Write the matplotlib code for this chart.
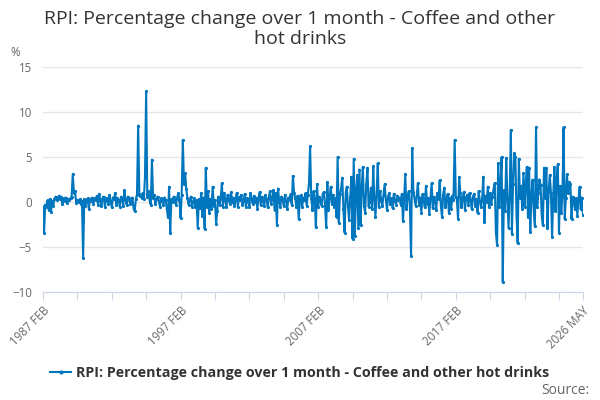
import matplotlib
matplotlib.use("Agg")
import matplotlib.pyplot as plt
from matplotlib.lines import Line2D
import numpy as np
import pandas as pd

# RPI monthly % change, coffee and other hot drinks, 1987 FEB .. 2026 MAY
y1987 = [-0.5, -3.4, -0.3, -0.6, 0.2, -0.9, 0.3, -1.1, 0.1, -0.4, 0.3]
y1988 = [0.6, 0.2, 0.5, 0.7, 0.3, 0.6, -0.2, 0.4, 0.1, 0.5, -0.1, 0.3]
y1989 = [0.2, 0.4, 0.6, 3.1, 1.0, 1.2, -0.1, 0.2, 0.0, 0.3, -0.2, 0.1]
y1990 = [-6.2, 0.3, -0.4, 0.2, 0.4, -0.8, 0.3, 0.1, 0.5, -0.2, 0.4, 0.2]
y1991 = [0.7, -0.3, 0.9, 0.2, -0.4, 0.5, 0.6, -0.5, 0.3, 0.4, -0.2, 0.8]
y1992 = [0.1, -0.6, 0.5, 0.3, 1.0, -0.3, 0.4, 0.2, -0.5, 0.6, 0.3, -0.4]
y1993 = [1.3, 0.2, -0.3, 0.6, 0.4, -0.2, 0.1, 0.5, -0.7, -1.0, 0.3, 0.8]
y1994 = [8.5, 0.9, 0.7, 0.5, 1.0, 0.3, 2.8, 12.3, 0.6, 1.2, 0.2, -0.3]
y1995 = [4.7, 0.5, 0.8, -0.2, 0.3, 0.6, 0.1, -0.5, 0.4, 0.2, -0.3, 0.5]
y1996 = [0.2, -0.8, -1.7, 1.7, -3.4, 0.3, 0.0, 0.6, 0.2, -0.3, 0.5, 1.0]
y1997 = [0.2, -1.8, 0.8, 6.9, 2.0, 3.2, 1.5, 0.4, -0.3, 0.2, 0.6, -0.5]
y1998 = [0.0, 0.4, -0.6, 0.2, -2.9, 0.3, -0.7, 1.0, -1.5, 0.5, -3.0, 3.8]
y1999 = [-0.5, 1.2, -1.2, 0.3, -0.8, 1.7, -0.4, 0.2, -2.4, -1.0, 0.6, -0.3]
y2000 = [0.4, 2.1, -0.5, 1.0, 0.3, -0.6, 0.8, 0.2, -0.2, 1.1, 0.0, 0.5]
y2001 = [-0.4, 0.3, 1.0, -0.5, 0.6, 0.2, 0.8, -0.3, 0.1, 0.9, -0.6, 0.4]
y2002 = [0.2, -0.5, 1.0, 0.3, -0.2, 0.7, 0.0, 0.5, -0.8, 0.4, 1.1, -0.3]
y2003 = [0.6, 0.1, -0.4, 0.8, 0.3, -0.6, 0.5, 1.2, -0.2, 0.3, 1.3, -0.9]
y2004 = [1.0, -2.6, 1.5, 0.2, -0.5, 0.6, 0.3, -0.4, 0.8, 0.1, -0.8, 0.5]
y2005 = [0.2, 0.9, -0.3, 2.9, 1.0, 0.4, -0.5, 0.7, -1.9, 0.3, 0.8, -0.6]
y2006 = [0.5, 0.2, 1.0, -0.4, 0.8, 2.0, 6.2, 0.4, -0.9, 1.2, 0.3, -2.8]
y2007 = [2.0, -0.5, 0.6, 0.2, -0.4, 0.9, 1.1, -0.3, -2.8, 2.2, -0.9, 0.5]
y2008 = [1.7, -0.2, 0.8, -0.6, 0.4, -1.7, 5.0, -2.3, 0.9, 1.5, 2.7, -0.8]
y2009 = [-3.4, 1.0, 1.7, -0.5, -2.0, 0.6, 2.8, -4.1, 4.8, -3.8, 1.2, 3.0]
y2010 = [-2.9, 3.6, -2.6, 1.5, 3.9, -0.4, -1.2, 2.0, 3.8, -0.5, 0.0, 1.6]
y2011 = [-0.8, 4.0, 0.5, -1.7, 1.0, 4.3, -0.6, 1.2, 0.2, -0.4, 0.8, 2.0]
y2012 = [0.3, -0.9, 0.6, 1.0, -0.2, 0.4, -0.7, 0.9, 0.1, -0.3, 0.7, 0.2]
y2013 = [0.5, -0.3, 0.9, -2.1, 0.4, 3.1, -0.8, 0.6, 1.2, -0.5, -6.0, 6.0]
y2014 = [1.1, 0.3, -0.4, 0.8, 2.1, -0.3, 0.5, -1.2, 0.9, 0.2, -0.6, 1.8]
y2015 = [-0.2, 0.4, -1.3, 0.5, 2.1, -0.7, 0.6, 0.1, -0.9, 1.0, 0.3, 2.4]
y2016 = [-0.4, -1.7, 0.8, 1.6, -0.5, 0.3, 0.9, -1.2, 0.5, -0.8, 0.7, 0.2]
y2017 = [6.9, 0.6, 0.3, -1.9, 2.8, 1.0, -0.6, 0.4, 1.1, -0.9, 0.5, 0.8]
y2018 = [-0.3, 1.0, 0.2, -0.8, 0.6, 0.9, -0.4, 0.3, -1.2, 1.2, 0.1, -0.6]
y2019 = [0.4, 2.8, -2.2, 0.7, 0.0, 1.7, -0.5, 1.0, -0.2, 0.6, 1.5, 2.1]
y2020 = [-3.4, -4.8, 4.3, -0.5, 2.0, 5.0, -8.9, 1.3, -1.0, 4.9, 0.5, -2.9]
y2021 = [1.0, 8.0, -3.5, 2.0, 5.4, 5.0, -1.5, -4.6, 4.8, 0.5, 1.8, -0.8]
y2022 = [3.2, -0.5, 2.0, 3.9, -1.7, 3.8, -3.3, 0.8, 2.5, -1.0, -2.7, 8.3]
y2023 = [-0.5, 1.0, 2.5, 1.9, -1.5, -2.6, 3.8, 0.5, 3.8, -2.9, 1.2, 3.0]
y2024 = [1.0, -3.9, 0.5, 3.9, -1.0, 2.5, 4.2, -3.4, 1.8, -1.2, 0.8, 8.3]
y2025 = [-1.9, 0.5, 3.1, 1.0, 2.2, 2.0, -1.9, 0.6, 0.3, -0.8, 0.4, -1.5]
y2026 = [0.2, 1.7, -0.8, 0.5, -1.4]

years = [y1987, y1988, y1989, y1990, y1991, y1992, y1993, y1994, y1995, y1996,
         y1997, y1998, y1999, y2000, y2001, y2002, y2003, y2004, y2005, y2006,
         y2007, y2008, y2009, y2010, y2011, y2012, y2013, y2014, y2015, y2016,
         y2017, y2018, y2019, y2020, y2021, y2022, y2023, y2024, y2025, y2026]
rpi = np.array([v for yr in years for v in yr])
dates = pd.date_range("1987-02-01", periods=len(rpi), freq="MS")

title = "RPI: Percentage change over 1 month - Coffee and other\nhot drinks"
seriesName = "RPI: Percentage change over 1 month - Coffee and other hot drinks"
yTicks = [-10, -5, 0, 5, 10, 15]

lineColor = "#0076bf"
axisColor = "#ccd6eb"
textGray = "#666666"

plt.rcParams["font.family"] = ["Open Sans", "DejaVu Sans"]

fig = plt.figure(figsize=(6, 4), dpi=100)
ax = fig.add_axes([43 / 600, 1 - 292 / 400, 540 / 600, 225 / 400])

ax.plot(dates, rpi, color=lineColor, lw=1.5, marker="o", ms=2.3,
        markeredgewidth=0, zorder=3)

ax.set_ylim(-10, 15)
ax.set_yticks(yTicks)
ax.set_xlim(dates[0], dates[-1])

# ticks every 30 months, labels on every 4th plus the last month
tickDates = list(dates[::30]) + [dates[-1]]
tickLabels = []
for i, d in enumerate(tickDates):
    if d == dates[-1] or i % 4 == 0:
        tickLabels.append(d.strftime("%Y %b").upper())
    else:
        tickLabels.append("")
ax.set_xticks(tickDates)
ax.set_xticklabels(tickLabels, rotation=45, ha="right", rotation_mode="anchor",
                   fontsize=8.3, color=textGray)

ax.grid(axis="y", color="#e6e6e6", lw=1)
ax.set_axisbelow(True)
for side in ["top", "right", "left"]:
    ax.spines[side].set_visible(False)
ax.spines["bottom"].set_color(axisColor)
ax.spines["bottom"].set_zorder(4)
ax.tick_params(axis="x", length=6, color=axisColor, pad=3)
ax.tick_params(axis="y", length=0, labelsize=8.3, labelcolor=textGray, pad=8)

fig.text(0.5, 0.975, title, ha="center", va="top", fontsize=14,
         color="#333333", linespacing=1.15)
fig.text(10 / 600, 1 - 52 / 400, "%", ha="left", va="center", fontsize=8.3, color=textGray)

handle = Line2D([], [], color=lineColor, lw=1.5, marker="o", ms=3, markeredgewidth=0)
leg = fig.legend([handle], [seriesName], loc="center", bbox_to_anchor=(0.5, 1 - 373 / 400),
                 frameon=False, handlelength=1.4, handletextpad=0.4,
                 prop={"weight": "bold", "size": 10.3})
for t in leg.get_texts():
    t.set_color("#333333")

fig.text(589 / 600, 1 - 390 / 400, "Source:", ha="right", va="center",
         fontsize=10, color=textGray)

fig.savefig("out.png", dpi=100)
